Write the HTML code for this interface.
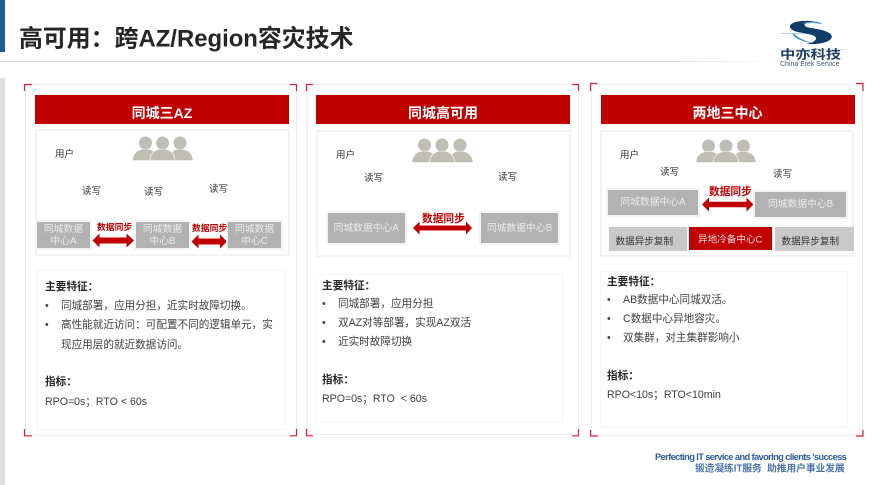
<!DOCTYPE html>
<html lang="zh-CN">
<head>
<meta charset="utf-8">
<style>
html,body{margin:0;padding:0;background:#fff;}
#p{position:relative;width:889px;height:485px;overflow:hidden;background:#fff;font-family:"Liberation Sans","Noto Sans CJK SC",sans-serif;color:#333;}
#p div{position:absolute;box-sizing:border-box;}
.t{white-space:nowrap;line-height:1;transform:translateY(calc(-50% + 1.5px));}
.panel{border:1.5px solid #ebebeb;background:#fff;}
.hd{background:#c00000;color:#fff;font-weight:bold;font-size:14px;text-align:center;line-height:1;padding-top:11px;}
.box{border:2px solid #f2f2f2;background:#fff;}
.low{border:1px solid #f6f6f6;background:#fff;}
.dc{background:#b2b2b2;color:#ececec;font-size:9.8px;text-align:center;outline:2px solid #f3f3f3;display:flex;align-items:center;justify-content:center;line-height:12.5px;padding-top:2px;}
.s{font-size:9.5px;color:#333;}
.sync{color:#c00000;font-weight:bold;}
.f{font-size:10.6px;color:#404040;}
.b{font-size:10.67px;font-weight:bold;color:#262626;}
svg{position:absolute;left:0;top:0;}
</style>
</head>
<body>
<div id="p">
<div style="left:0;top:0;width:5px;height:52px;background:#1c5a9c;"></div>
<div style="left:0;top:78px;width:5px;height:407px;background:#dedede;"></div>
<div style="left:0;top:60.5px;width:775px;height:1.5px;background:linear-gradient(90deg,#dcdcdc 85%,#fff);"></div>
<div class="t" style="left:19px;top:38px;font-size:23.900px;font-weight:bold;color:#262626;">高可用：跨AZ/Region容灾技术</div>

<!-- panels -->
<div class="panel" style="left:25px;top:84px;width:272px;height:352px;"></div>
<div class="panel" style="left:307px;top:84px;width:272px;height:351px;"></div>
<div class="panel" style="left:591px;top:84px;width:272px;height:352px;"></div>

<div class="hd" style="left:35px;top:95px;width:254px;height:29px;">同城三AZ</div>
<div class="hd" style="left:316px;top:95px;width:254px;height:28.5px;">同城高可用</div>
<div class="hd" style="left:600.5px;top:94.5px;width:254px;height:29px;">两地三中心</div>

<div class="box" style="left:35px;top:129px;width:255px;height:127px;"></div>
<div class="box" style="left:315.5px;top:130px;width:255.5px;height:127px;"></div>
<div class="box" style="left:600px;top:130px;width:254px;height:127px;"></div>

<div class="low" style="left:37px;top:270px;width:249px;height:160px;"></div>
<div class="low" style="left:315px;top:274px;width:248px;height:149px;"></div>
<div class="low" style="left:600px;top:271px;width:248px;height:157px;"></div>

<svg width="889" height="485" viewBox="0 0 889 485">
  <g fill="none" stroke="#d9213a" stroke-width="1.2">
    <path d="M24.5 91V84.5H32M290 84.5H296.5V91M24.5 429V435.8H32M290 435.8H296.5V429"/>
    <path d="M306.5 91V84.5H313M572 84.5H578.5V91M306.5 429V435.8H313M572 435.8H578.5V429"/>
    <path d="M590.5 91V83.5H597M856 83.5H863V91M590.5 430V436H598M856 436H863V430"/>
  </g>
  <!-- users -->
  <g fill="#bfbdb4" stroke="#fff" stroke-width="0.6">
    <circle cx="180" cy="143" r="6.8"/><path d="M169 160.500c0-8 5-11.500 11-11.500s13 3.500 13 11.500z"/>
    <circle cx="145.500" cy="143" r="6.800"/><path d="M132.500 160.500c0-8 6-11.500 13-11.500s12 3.500 12 11.500z"/>
    <circle cx="162.500" cy="143" r="6.800"/><path d="M150 160.500c0-8 6-11.500 12.500-11.500s12.500 3.500 12.500 11.500z"/>
  </g>
  <g fill="#bfbdb4" stroke="#fff" stroke-width="0.6">
    <circle cx="460" cy="145" r="6.8"/><path d="M449 162.500c0-8 5-11.500 11-11.500s13 3.500 13 11.500z"/>
    <circle cx="424.500" cy="145" r="6.800"/><path d="M412 162.500c0-8 6-11.500 12.500-11.500s12.500 3.500 12.500 11.500z"/>
    <circle cx="442" cy="145" r="6.800"/><path d="M429.500 162.500c0-8 6-11.500 12.500-11.500s12.500 3.500 12.500 11.500z"/>
  </g>
  <g fill="#bfbdb4" stroke="#fff" stroke-width="0.6">
    <circle cx="743.500" cy="146" r="6.800"/><path d="M733 162.500c0-8 4.500-11 10.500-11s12.500 3 12.500 11z"/>
    <circle cx="708.500" cy="146" r="6.800"/><path d="M696 162.500c0-8 6-11 12.500-11s12.500 3 12.500 11z"/>
    <circle cx="726" cy="146" r="6.800"/><path d="M713.500 162.500c0-8 6-11 12.500-11s12.500 3 12.500 11z"/>
  </g>
  <!-- arrows -->
  <g fill="#c00000">
    <path d="M92.500 240.500l7-7v4h27v-4l7.500 7-7.500 7v-4h-27v4z"/>
    <path d="M191.500 241.500l7-7v4h21.500v-4l7 7-7 7v-4h-21.500v4z"/>
    <path d="M413 228l6.500-6.500v4h46.500v-4l6 6.500-6 6.500v-4h-46.500v4z"/>
    <path d="M702 204.500l7-7v4.200h37.500v-4.200l7 7-7 7v-4.200h-37.500v4.200z"/>
  </g>
  <!-- logo -->
  <path d="M780 49.500H846" stroke="#cfdbe8" stroke-width="0.8"/>
  <path d="M781 33.500H832" stroke="#9fc3dc" stroke-width="0.8"/>
  <path d="M823 24c-7-3.500-24-4.500-31-0.500-4.500 3-1 6.800 5 8.300 7 1.800 19 2.600 19 6.500 0 3-5 5-10 5.700 10 0.800 23-1 25.500-6 1.800-4-5-7-12-8.500-7-1.400-15-2.200-15-4.500 0-2.800 11-3.500 18.500-1z" fill="#0f3d68"/>
  <path d="M793 33c-1.500 4 9 9 22 10.500-9-2-17-5.500-22-10.500z" fill="#3f8fc6"/>
  <path d="M802 23.500c6-2.500 14-2 20 0.500-6-1-13-1.200-20-0.500z" fill="#5aa5d5"/>
</svg>

<div class="t" style="left:780px;top:53px;font-size:12px;font-weight:bold;color:#1d3e60;transform-origin:left center;transform:translateY(calc(-50% + 1.5px)) scaleX(1.27);">中亦科技</div>
<div class="t" style="left:780px;top:62.500px;font-size:7px;color:#3f5a78;">China Etek Service</div>

<!-- panel 1 diagram -->
<div class="t s" style="left:55px;top:153px;">用户</div>
<div class="t s" style="left:82px;top:190px;">读写</div>
<div class="t s" style="left:144px;top:190.500px;">读写</div>
<div class="t s" style="left:209px;top:188px;">读写</div>
<div class="dc" style="left:37px;top:222px;width:53px;height:26px;">同城数据<br>中心A</div>
<div class="dc" style="left:136px;top:222px;width:53px;height:26px;">同城数据<br>中心B</div>
<div class="dc" style="left:228px;top:222px;width:53px;height:26px;">同城数据<br>中心C</div>
<div class="t sync" style="left:97px;top:226px;font-size:8.800px;">数据同步</div>
<div class="t sync" style="left:192px;top:227px;font-size:8.800px;">数据同步</div>

<!-- panel 2 diagram -->
<div class="t s" style="left:336px;top:154px;">用户</div>
<div class="t s" style="left:364px;top:177px;">读写</div>
<div class="t s" style="left:498px;top:176px;">读写</div>
<div class="dc" style="left:327.500px;top:213px;width:77.500px;height:30px;">同城数据中心A</div>
<div class="dc" style="left:481px;top:213px;width:77px;height:30px;">同城数据中心B</div>
<div class="t sync" style="left:422px;top:218px;font-size:10.700px;">数据同步</div>

<!-- panel 3 diagram -->
<div class="t s" style="left:620px;top:154px;">用户</div>
<div class="t s" style="left:660px;top:171px;">读写</div>
<div class="t s" style="left:773px;top:172.500px;">读写</div>
<div class="dc" style="left:608px;top:190px;width:90px;height:25px;">同城数据中心A</div>
<div class="dc" style="left:755px;top:191.500px;width:91px;height:25.500px;">同城数据中心B</div>
<div class="t sync" style="left:709px;top:191px;font-size:10.700px;">数据同步</div>
<div style="left:608.500px;top:226.500px;width:78.500px;height:24.500px;background:#c9c9c9;"></div>
<div style="left:689px;top:227px;width:83px;height:23px;background:#c00000;"></div>
<div style="left:775px;top:226.500px;width:79px;height:24.500px;background:#c9c9c9;"></div>
<div class="t" style="left:615.500px;top:241px;font-size:9.600px;color:#333;">数据异步复制</div>
<div class="t" style="left:698px;top:238.500px;font-size:9.600px;color:#f2dcdc;">异地冷备中心C</div>
<div class="t" style="left:781.500px;top:241px;font-size:9.600px;color:#333;">数据异步复制</div>

<!-- panel 1 text -->
<div class="t b" style="left:45px;top:286px;">主要特征：</div>
<div class="t f" style="left:45px;top:305px;">•</div>
<div class="t f" style="left:61px;top:305px;">同城部署，应用分担，近实时故障切换。</div>
<div class="t f" style="left:45px;top:324px;">•</div>
<div class="t f" style="left:61px;top:324px;">高性能就近访问：可配置不同的逻辑单元，实</div>
<div class="t f" style="left:61px;top:344px;">现应用层的就近数据访问。</div>
<div class="t b" style="left:45px;top:381px;">指标：</div>
<div class="t f" style="left:45px;top:401px;">RPO=0s；RTO &lt; 60s</div>

<!-- panel 2 text -->
<div class="t b" style="left:322px;top:285px;">主要特征：</div>
<div class="t f" style="left:322px;top:303px;">•</div>
<div class="t f" style="left:338px;top:303px;">同城部署，应用分担</div>
<div class="t f" style="left:322px;top:322px;">•</div>
<div class="t f" style="left:338px;top:322px;">双AZ对等部署，实现AZ双活</div>
<div class="t f" style="left:322px;top:341px;">•</div>
<div class="t f" style="left:338px;top:341px;">近实时故障切换</div>
<div class="t b" style="left:322px;top:379px;">指标：</div>
<div class="t f" style="left:322px;top:398px;">RPO=0s；RTO &nbsp;&lt; 60s</div>

<!-- panel 3 text -->
<div class="t b" style="left:607px;top:281px;">主要特征：</div>
<div class="t f" style="left:607px;top:299px;">•</div>
<div class="t f" style="left:623px;top:299px;">AB数据中心同城双活。</div>
<div class="t f" style="left:607px;top:318px;">•</div>
<div class="t f" style="left:623px;top:318px;">C数据中心异地容灾。</div>
<div class="t f" style="left:607px;top:337px;">•</div>
<div class="t f" style="left:623px;top:337px;">双集群，对主集群影响小</div>
<div class="t b" style="left:607px;top:375px;">指标：</div>
<div class="t f" style="left:607px;top:394px;">RPO&lt;10s；RTO&lt;10min</div>

<!-- footer -->
<div class="t" style="left:655px;top:456px;font-size:9.300px;font-weight:bold;letter-spacing:-0.62px;color:#2c5c9c;">Perfecting IT service and favoring clients 'success</div>
<div class="t" style="left:695px;top:467.500px;font-size:9.700px;font-weight:bold;color:#4a76ac;">锻造凝练IT服务&nbsp; 助推用户事业发展</div>
</div>
</body>
</html>
